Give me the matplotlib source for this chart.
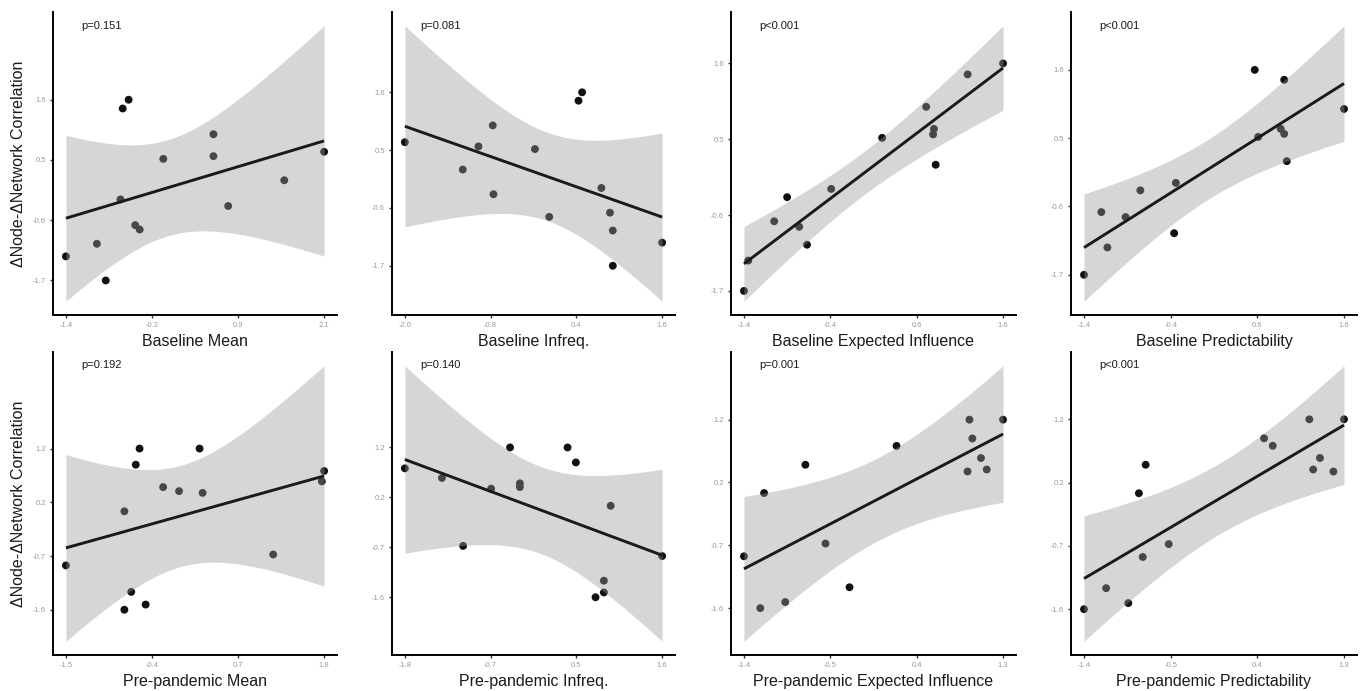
import numpy as np
import matplotlib
matplotlib.use("Agg")
import matplotlib.pyplot as plt

plt.rcParams['font.family'] = ['Liberation Sans', 'DejaVu Sans']

# ---------------- data ----------------
# top row: dependent variable (same 14 nodes)
y_top = [1.60, 1.44, 0.97, 0.65, 0.57, 0.52, 0.13, -0.22, -0.34, -0.69, -0.77, -1.03, -1.26, -1.70]
x_base_mean = [-0.55, -0.63, 0.60, 2.10, 0.60, -0.08, 1.56, -0.66, 0.80, -0.46, -0.40, -0.98, -1.40, -0.86]
x_base_infreq = [0.48, 0.43, -0.77, -2.00, -0.97, -0.18, -1.19, 0.75, -0.76, 0.87, 0.02, 0.91, 1.60, 0.91]
x_base_ei = [1.60, 1.19, 0.71, 0.80, 0.79, 0.20, 0.82, -0.39, -0.90, -1.05, -0.76, -0.67, -1.35, -1.40]
x_base_pred = [0.57, 0.91, 1.60, 0.87, 0.91, 0.61, 0.94, -0.34, -0.75, -1.20, -0.92, -0.36, -1.13, -1.40]

# bottom row
y_bottom = [1.20, 1.20, 0.92, 0.81, 0.63, 0.53, 0.46, 0.43, 0.11, -0.64, -0.83, -1.29, -1.51, -1.60]
x_pre_mean = [-0.53, 0.26, -0.58, 1.90, 1.87, -0.22, -0.01, 0.30, -0.73, 1.23, -1.50, -0.64, -0.45, -0.73]
x_pre_infreq = [-0.41, 0.35, 0.46, -1.80, -1.31, -0.28, -0.28, -0.66, 0.92, -1.03, 1.60, 0.83, 0.83, 0.72]
x_pre_ei = [0.95, 1.30, 0.98, 0.19, 1.07, -0.76, 1.13, 0.93, -1.19, -0.55, -1.40, -0.30, -0.97, -1.23]
x_pre_pred = [0.94, 1.30, 0.47, 0.56, 1.05, -0.76, 0.98, 1.19, -0.83, -0.52, -0.79, -1.17, -0.94, -1.40]

xlabels = ["Baseline Mean", "Baseline Infreq.", "Baseline Expected Influence", "Baseline Predictability",
           "Pre-pandemic Mean", "Pre-pandemic Infreq.", "Pre-pandemic Expected Influence",
           "Pre-pandemic Predictability"]
pvals = ["p=0.151", "p=0.081", "p<0.001", "p<0.001", "p=0.192", "p=0.140", "p=0.001", "p<0.001"]
ylabel = "\u0394Node-\u0394Network Correlation"

xtick_labels = [["-1.4", "-0.2", "0.9", "2.1"], ["-2.0", "-0.8", "0.4", "1.6"],
                ["-1.4", "-0.4", "0.6", "1.6"], ["-1.4", "-0.4", "0.6", "1.6"],
                ["-1.5", "-0.4", "0.7", "1.9"], ["-1.8", "-0.7", "0.5", "1.6"],
                ["-1.4", "-0.5", "0.4", "1.3"], ["-1.4", "-0.5", "0.4", "1.3"]]
ytick_top = ["-1.7", "-0.6", "0.5", "1.6"]
ytick_bottom = ["-1.6", "-0.7", "0.2", "1.2"]

xs = [x_base_mean, x_base_infreq, x_base_ei, x_base_pred,
      x_pre_mean, x_pre_infreq, x_pre_ei, x_pre_pred]
ys = [y_top] * 4 + [y_bottom] * 4

# ---------------- layout ----------------
W, H = 1365, 691
fig = plt.figure(figsize=(W / 100, H / 100), dpi=100)
cols = [(53, 337), (392, 675), (731, 1016), (1071, 1357)]
rows = [(12, 315), (352, 655)]

T_CRIT = 3.40  # critical value for the confidence band width

for i in range(8):
    r, c = divmod(i, 4)
    l, rr = cols[c]
    t, b = rows[r]
    ax = fig.add_axes([l / W, 1 - b / H, (rr - l) / W, (b - t) / H])
    x = np.asarray(xs[i], float)
    y = np.asarray(ys[i], float)
    n = len(x)
    slope, intercept = np.polyfit(x, y, 1)
    xg = np.linspace(x.min(), x.max(), 200)
    yhat = intercept + slope * xg
    resid = y - (intercept + slope * x)
    s = np.sqrt(np.sum(resid ** 2) / (n - 2))
    sxx = np.sum((x - x.mean()) ** 2)
    se = s * np.sqrt(1 / n + (xg - x.mean()) ** 2 / sxx)

    ax.scatter(x, y, s=32, color='#111111', edgecolors='none', zorder=2)
    ax.fill_between(xg, yhat - T_CRIT * se, yhat + T_CRIT * se, color='#999999',
                    alpha=0.4, linewidth=0, zorder=3)
    ax.plot(xg, yhat, color='#1a1a1a', linewidth=2.1, zorder=4, solid_capstyle='butt')
    ax.margins(0.05)

    xl = xtick_labels[i]
    ax.set_xticks(np.linspace(float(xl[0]), float(xl[-1]), 4))
    ax.set_xticklabels(xl)
    yl = ytick_top if r == 0 else ytick_bottom
    ax.set_yticks(np.linspace(float(yl[0]), float(yl[-1]), 4))
    ax.set_yticklabels(yl)

    for side in ['top', 'right']:
        ax.spines[side].set_visible(False)
    for side in ['left', 'bottom']:
        ax.spines[side].set_linewidth(1.4)
        ax.spines[side].set_color('black')
    ax.tick_params(length=2.5, width=1.0, color='#333333', labelsize=5.5,
                   labelcolor='#999999', pad=2.5)

    ax.set_xlabel(xlabels[i], fontsize=11.5, color='#1a1a1a')
    ax.xaxis.label.set_va('center')
    ax.xaxis.set_label_coords(0.5, -0.086 if r == 0 else -0.088)
    if c == 0:
        ax.set_ylabel(ylabel, fontsize=11.5, color='#1a1a1a')
        ax.yaxis.label.set_va('center')
        ax.yaxis.set_label_coords(-0.12, 0.5)

    ax.text(0.10, 0.954 if r == 0 else 0.957, pvals[i], transform=ax.transAxes,
            fontsize=8, color='#1a1a1a', ha='left', va='center')

fig.savefig("out.png", dpi=100)
